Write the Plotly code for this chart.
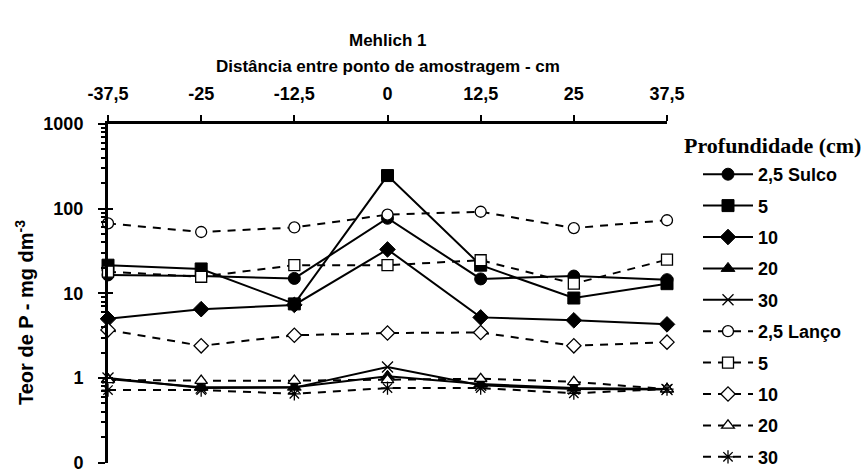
import plotly.graph_objects as go

distances = [-37.5, -25, -12.5, 0, 12.5, 25, 37.5]
x_ticktext = ["-37,5", "-25", "-12,5", "0", "12,5", "25", "37,5"]

sulco_2_5 = [16.5, 16.0, 15.0, 77.0, 14.8, 16.0, 14.5]
sulco_5 = [21.5, 19.4, 7.5, 246.0, 21.5, 8.8, 13.0]
sulco_10 = [5.0, 6.5, 7.3, 33.0, 5.2, 4.8, 4.3]
sulco_20 = [0.97, 0.78, 0.78, 1.05, 0.85, 0.76, 0.74]
sulco_30 = [1.0, 0.76, 0.77, 1.35, 0.82, 0.74, 0.73]

lanco_2_5 = [67.0, 53.0, 60.0, 85.0, 92.0, 59.0, 73.0]
lanco_5 = [18.0, 15.7, 21.5, 21.5, 24.6, 13.0, 25.0]
lanco_10 = [3.7, 2.4, 3.2, 3.4, 3.45, 2.4, 2.65]
lanco_20 = [0.95, 0.93, 0.93, 0.95, 0.98, 0.9, 0.74]
lanco_30 = [0.72, 0.72, 0.65, 0.76, 0.76, 0.66, 0.74]

y_tickvals = [0.1, 1, 10, 100, 1000]
y_ticktext = ["0", "1", "10", "100", "1000"]

series = [
    ("2,5 Sulco", sulco_2_5, "circle", True),
    ("5", sulco_5, "square", True),
    ("10", sulco_10, "diamond", True),
    ("20", sulco_20, "triangle-up", True),
    ("30", sulco_30, "x-thin-open", True),
    ("2,5 Lanço", lanco_2_5, "circle", False),
    ("5", lanco_5, "square", False),
    ("10", lanco_10, "diamond", False),
    ("20", lanco_20, "triangle-up", False),
    ("30", lanco_30, "asterisk-open", False),
]

FONT = "Arial, Liberation Sans, sans-serif"
SERIF = "Liberation Serif, Times New Roman, serif"

# plot-area geometry (pixels)
W, H = 865, 475
L, R, T, B = 108, 198, 124, 12
PH = H - T - B
PW = W - L - R
Y_RANGE = [-1.004, 3]


def py(ypix):
    return (H - B - ypix) / PH


def px(xpix):
    return (xpix - L) / PW


fig = go.Figure()
for i, (name, vals, sym, solid) in enumerate(series):
    if sym in ("x-thin-open", "asterisk-open"):
        marker = dict(symbol=sym, size=11, color="black", line=dict(color="black", width=1.3))
    elif solid:
        marker = dict(symbol=sym, size=12, color="black", line=dict(color="black", width=1))
    else:
        marker = dict(symbol=sym, size=11, color="white", line=dict(color="black", width=1.3))
    fig.add_trace(go.Scatter(
        x=distances, y=vals, mode="lines+markers", name=name,
        legendgroup="g%d" % i,
        line=dict(color="black", width=2, dash="solid" if solid else "8px,7px"),
        marker=marker, cliponaxis=False,
    ))

# empty helper trace so the overlaid axis (inside half of crossing ticks) is drawn
fig.add_trace(go.Scatter(x=[], y=[], yaxis="y2", showlegend=False, hoverinfo="skip"))

fig.update_layout(
    width=W, height=H,
    margin=dict(l=L, r=R, t=T, b=B, autoexpand=False),
    paper_bgcolor="white", plot_bgcolor="white",
    font=dict(family=FONT, size=18, color="black", weight="bold"),
    showlegend=True,
    legend=dict(x=px(698), xanchor="left", y=py(156), yanchor="top",
                font=dict(family=FONT, size=18, weight="bold"),
                tracegroupgap=5, traceorder="grouped", itemwidth=50,
                maxheight=440, bgcolor="rgba(0,0,0,0)"),
    annotations=[
        dict(text="Mehlich 1", xref="paper", yref="paper", x=0.5, xanchor="center",
             y=py(40), yanchor="middle", showarrow=False,
             font=dict(family=FONT, size=17, weight="bold")),
        dict(text="Distância entre ponto de amostragem - cm", xref="paper", yref="paper",
             x=0.5, xanchor="center", y=py(66), yanchor="middle", showarrow=False,
             font=dict(family=FONT, size=17, weight="bold")),
        dict(text="Teor de P - mg dm<sup>-3</sup>", xref="paper", yref="paper",
             x=px(24), xanchor="center", y=py(312), yanchor="middle", showarrow=False,
             textangle=-90, font=dict(family=FONT, size=20, weight="bold")),
        dict(text="Profundidade (cm)", xref="paper", yref="paper",
             x=px(863), xanchor="right", y=py(145), yanchor="middle", showarrow=False,
             font=dict(family=SERIF, size=22, weight="bold")),
    ],
    yaxis2=dict(type="log", range=Y_RANGE, overlaying="y", side="left", anchor="x",
                tickmode="array", tickvals=y_tickvals, showticklabels=False,
                ticks="inside", ticklen=5, tickwidth=2, tickcolor="black",
                showline=False, showgrid=False, zeroline=False, automargin=False),
)

fig.update_xaxes(
    side="top", range=[-37.5, 37.5], tickmode="array",
    tickvals=distances, ticktext=x_ticktext,
    showline=True, linecolor="black", linewidth=2.5,
    ticks="outside", ticklen=6, tickwidth=2, tickcolor="black",
    ticklabelstandoff=8, ticklabeloverflow="allow",
    showgrid=False, zeroline=False, automargin=False,
    tickfont=dict(family=FONT, size=18, weight="bold"),
)

fig.update_layout(yaxis=dict(
    type="log", range=Y_RANGE, tickmode="array",
    tickvals=y_tickvals, ticktext=y_ticktext,
    showline=True, linecolor="black", linewidth=3,
    ticks="outside", ticklen=7, tickwidth=2, tickcolor="black",
    ticklabelstandoff=11, ticklabeloverflow="allow",
    minor=dict(ticks="outside", ticklen=4, tickwidth=2, tickcolor="black", dtick="D1", showgrid=False),
    showgrid=False, zeroline=False, automargin=False,
    tickfont=dict(family=FONT, size=18, weight="bold"),
))

fig.write_html("out.html", config={"displayModeBar": False},
               post_script="document.body.style.margin='0';")
